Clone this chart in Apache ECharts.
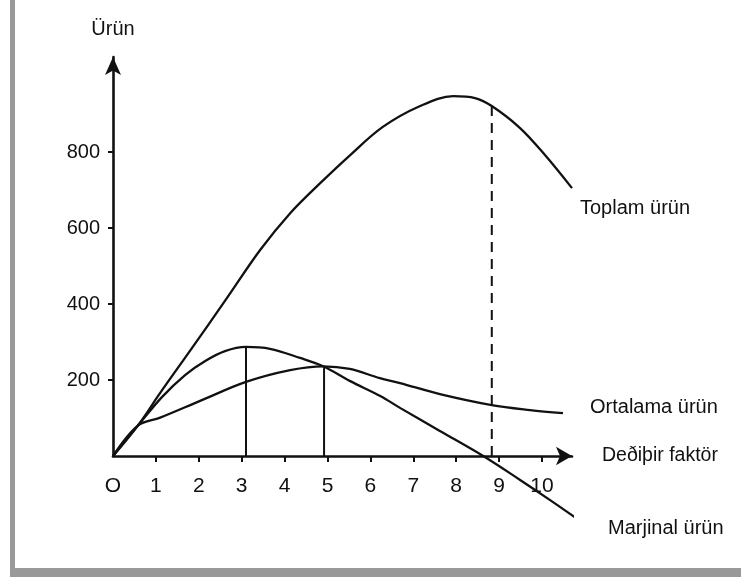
<!DOCTYPE html>
<html>
<head>
<meta charset="utf-8">
<script src="https://cdn.jsdelivr.net/npm/echarts@6/dist/echarts.min.js"></script>
<style>
  html, body { margin: 0; padding: 0; background: #fff; }
  #chart { width: 741px; height: 577px; }
</style>
</head>
<body>
<div id="chart"></div>
<script>
// ---- data ----
const xTicks = [0, 1, 2, 3, 4, 5, 6, 7, 8, 9, 10];
const xTickLabels = ['O', '1', '2', '3', '4', '5', '6', '7', '8', '9', '10'];
const yTicks = [200, 400, 600, 800];
const yTickLabels = ['200', '400', '600', '800'];

const totalName = 'Toplam ürün';
const totalX = [0, 0.58, 1.10, 1.79, 2.61, 3.43, 4.13, 4.83, 5.53, 6.29, 7.16, 7.93, 8.44, 8.83, 9.49, 10.07, 10.70];
const totalY = [0, 80, 166, 276, 408, 542, 639, 718, 792, 866, 921, 947, 942, 921, 863, 792, 705];

const averageName = 'Ortalama ürün';
const averageX = [0, 0.58, 1.10, 2.03, 3.10, 4.13, 4.90, 5.52, 6.22, 6.69, 7.62, 8.83, 9.72, 10.49];
const averageY = [0, 80, 101, 145, 195, 226, 236, 229, 205, 192, 163, 134, 121, 113];

const marginalName = 'Marjinal ürün';
const marginalX = [0, 0.58, 1.14, 1.68, 2.15, 2.61, 3.10, 3.66, 4.36, 4.90, 5.53, 6.23, 6.70, 7.62, 8.63, 9.49, 10.19, 10.93];
const marginalY = [0, 80, 155, 213, 250, 276, 287, 282, 258, 236, 197, 158, 126, 66, 0, -63, -116, -174];

const dropX = [3.10, 4.92, 8.83];
const dropTop = [287, 236, 921];
const dropDashed = [false, false, true];

const xName = 'Deðiþir faktör';
const yName = 'Ürün';

// ---- build ----
const zip = (xs, ys) => xs.map((x, i) => [x, ys[i]]);
const FONT = "'Liberation Sans', Arial, sans-serif";
const INK = '#111';

const curve = (name, xs, ys, offset) => ({
  name: name,
  type: 'line',
  data: zip(xs, ys),
  smooth: 0.35,
  showSymbol: false,
  symbol: 'none',
  clip: false,
  lineStyle: { color: INK, width: 2.3 },
  endLabel: {
    show: true,
    formatter: name,
    color: INK,
    fontFamily: FONT,
    fontSize: 20,
    offset: offset
  },
  z: 3
});

const drops = dropX.map((x, i) => ({
  type: 'line',
  data: [[x, 0], [x, dropTop[i]]],
  showSymbol: false,
  symbol: 'none',
  lineStyle: { color: INK, width: 2, type: dropDashed[i] ? [10, 7] : 'solid' },
  z: 2
}));

const chart = echarts.init(document.getElementById('chart'), null, { renderer: 'canvas' });
chart.setOption({
  animation: false,
  backgroundColor: '#fff',
  grid: { left: 113, top: 57, right: 169, bottom: 121, containLabel: false },
  xAxis: {
    type: 'value',
    min: 0,
    max: 10.7,
    name: xName,
    nameLocation: 'end',
    nameGap: 30,
    nameTextStyle: { color: INK, fontFamily: FONT, fontSize: 19.5, padding: [14, 0, 0, 0] },
    axisLine: { show: true, onZero: false, symbol: ['none', 'arrow'], symbolSize: [14, 16], lineStyle: { color: INK, width: 2.6 } },
    axisTick: { show: true, customValues: xTicks.slice(1), length: 6, lineStyle: { color: INK, width: 2 } },
    axisLabel: {
      customValues: xTicks,
      formatter: v => xTickLabels[xTicks.indexOf(v)],
      color: INK, fontFamily: FONT, fontSize: 21, margin: 20
    },
    splitLine: { show: false }
  },
  yAxis: {
    type: 'value',
    min: 0,
    max: 1050,
    name: yName,
    nameLocation: 'end',
    nameGap: 18,
    nameTextStyle: { color: INK, fontFamily: FONT, fontSize: 20, align: 'center' },
    axisLine: { show: true, onZero: false, symbol: ['none', 'arrow'], symbolSize: [12, 18], lineStyle: { color: INK, width: 2.6 } },
    axisTick: { show: true, customValues: yTicks, length: 5, lineStyle: { color: INK, width: 2 } },
    axisLabel: {
      customValues: yTicks,
      formatter: v => yTickLabels[yTicks.indexOf(v)],
      color: INK, fontFamily: FONT, fontSize: 20, margin: 13
    },
    splitLine: { show: false }
  },
  graphic: [
    { type: 'rect', left: 10, top: 0, shape: { width: 5, height: 577 }, style: { fill: '#999' }, silent: true },
    { type: 'rect', left: 10, top: 568, shape: { width: 731, height: 9 }, style: { fill: '#999' }, silent: true }
  ],
  series: [
    curve(totalName, totalX, totalY, [0, 20]),
    curve(averageName, averageX, averageY, [19, -6]),
    curve(marginalName, marginalX, marginalY, [26, 12])
  ].concat(drops)
});
</script>
</body>
</html>
